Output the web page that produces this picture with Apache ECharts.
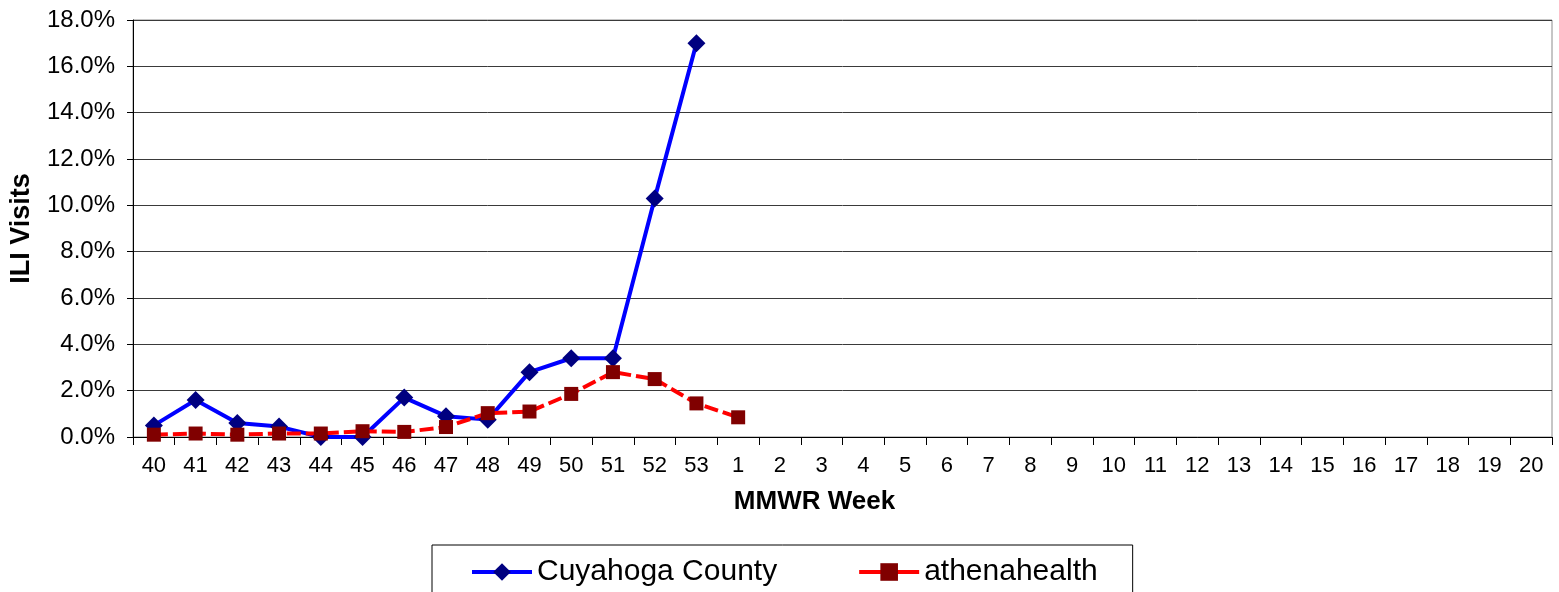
<!DOCTYPE html>
<html>
<head>
<meta charset="utf-8">
<script src="https://cdn.jsdelivr.net/npm/echarts@6/dist/echarts.min.js"></script>
<style>
  html, body { margin: 0; padding: 0; background: #fff; }
  #chart { width: 1559px; height: 592px; }
</style>
</head>
<body>
<div id="chart"></div>
<script>
// MMWR weeks 40..53 then 1..20
const weeks = ['40', '41', '42', '43', '44', '45', '46', '47', '48', '49', '50', '51', '52', '53',
  '1', '2', '3', '4', '5', '6', '7', '8', '9', '10', '11', '12', '13', '14', '15', '16', '17', '18', '19', '20'];

// ILI visits, percent
const cuyahoga = [0.5, 1.6, 0.6, 0.45, 0.0, 0.0, 1.7, 0.9, 0.75, 2.8, 3.4, 3.4, 10.3, 17.0];
const athenahealth = [0.1, 0.15, 0.1, 0.15, 0.15, 0.25, 0.22, 0.43, 1.03, 1.1, 1.86, 2.8, 2.5, 1.45, 0.85];

const yTicks = { min: 0, max: 18, interval: 2 };

const FONT = '"Liberation Sans", Arial, sans-serif';

const chart = echarts.init(document.getElementById('chart'), null, { renderer: 'canvas' });

chart.setOption({
  animation: false,
  backgroundColor: '#fff',
  textStyle: { fontFamily: FONT, color: '#000' },
  grid: {
    left: 130, right: 7, top: 20, bottom: 155,
    show: true, borderColor: '#8c8c8c', borderWidth: 1
  },
  legend: {
    left: 432, top: 545,
    padding: [12, 35, 20, 38],
    borderColor: '#000', borderWidth: 1,
    itemWidth: 60, itemHeight: 22, itemGap: 80,
    lineStyle: { width: 4, type: 'solid' },
    textStyle: { fontFamily: FONT, fontSize: 30, color: '#000' },
    data: ['Cuyahoga County', 'athenahealth']
  },
  xAxis: {
    type: 'category',
    data: weeks,
    boundaryGap: true,
    name: 'MMWR Week',
    nameLocation: 'middle',
    nameGap: 52,
    nameTextStyle: {
      fontFamily: FONT, fontSize: 26, fontWeight: 'bold', color: '#000',
      padding: [0, 56, 0, 0]
    },
    axisLine: { lineStyle: { color: '#000', width: 1 } },
    axisTick: { show: true, length: 8, lineStyle: { color: '#000' } },
    axisLabel: { interval: 0, fontSize: 22, color: '#000', margin: 18 },
    splitLine: { show: false }
  },
  yAxis: {
    type: 'value',
    min: yTicks.min, max: yTicks.max, interval: yTicks.interval,
    name: 'ILI Visits',
    nameLocation: 'middle',
    nameGap: 98,
    nameTextStyle: { fontFamily: FONT, fontSize: 27, fontWeight: 'bold', color: '#000' },
    axisLine: { show: true, lineStyle: { color: '#000', width: 1 } },
    axisTick: { show: true, length: 6, lineStyle: { color: '#000' } },
    axisLabel: {
      fontSize: 24, color: '#000', margin: 18,
      formatter: v => v.toFixed(1) + '%'
    },
    splitLine: { show: true, lineStyle: { color: '#3a3a3a', width: 1 } }
  },
  series: [
    {
      name: 'Cuyahoga County',
      type: 'line',
      data: cuyahoga,
      symbol: 'diamond',
      symbolSize: 18,
      lineStyle: { color: '#0000ff', width: 4 },
      itemStyle: { color: '#000080' }
    },
    {
      name: 'athenahealth',
      type: 'line',
      data: athenahealth,
      symbol: 'rect',
      symbolSize: 14,
      lineStyle: { color: '#ff0000', width: 4, type: [14, 5] },
      itemStyle: { color: '#800000' }
    }
  ]
});
</script>
</body>
</html>
